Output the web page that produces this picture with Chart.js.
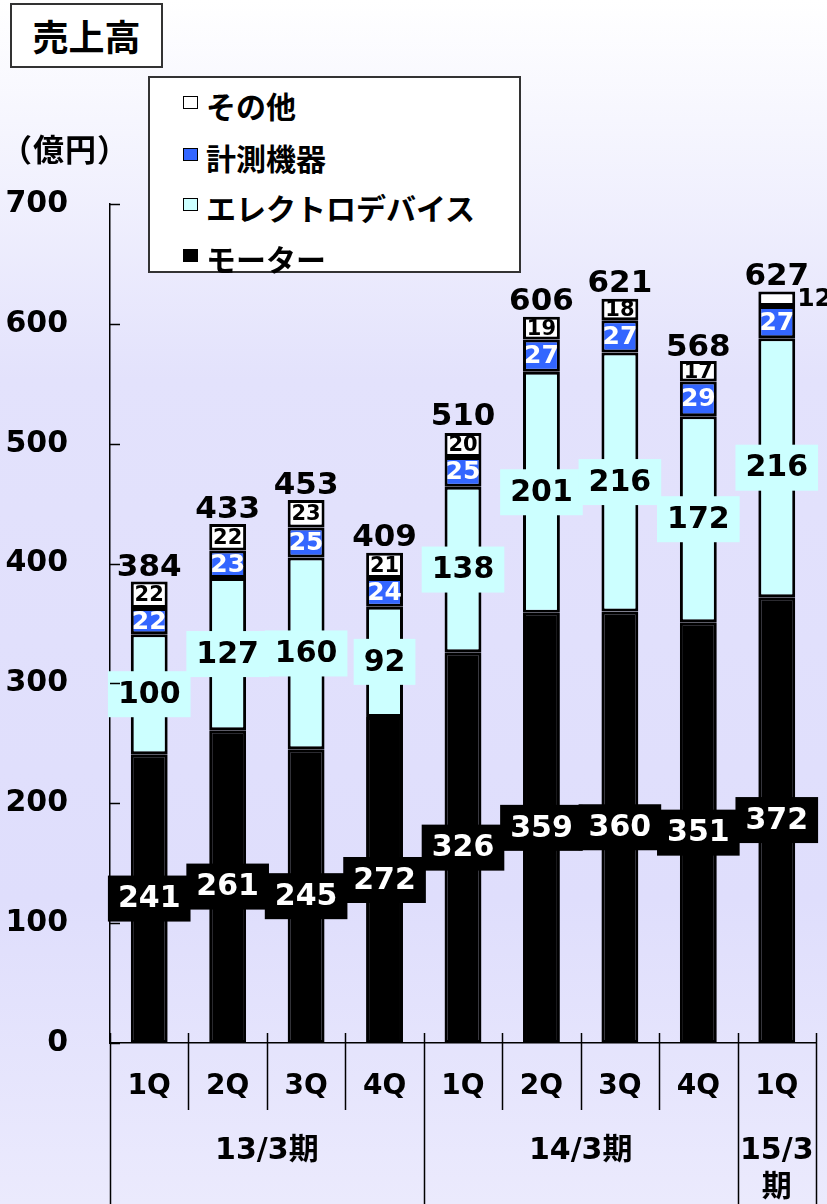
<!DOCTYPE html>
<html>
<head>
<meta charset="utf-8">
<script src="https://cdn.jsdelivr.net/npm/chart.js@4.4.1/dist/chart.umd.min.js"></script>
<style>
  html, body { margin: 0; padding: 0; }
  body {
    width: 827px; height: 1204px; position: relative; overflow: hidden;
    background: linear-gradient(to bottom, #ffffff 0px, #f6f6fe 120px, #e3e2fc 380px, #dfdefc 900px, #ebeafd 1204px);
    font-family: "DejaVu Sans", "Noto Sans CJK JP", sans-serif;
  }
  #chart { position: absolute; left: 0; top: 0; }
  .title {
    position: absolute; left: 10px; top: 3px; width: 149px; height: 61px;
    border: 2px solid #333; background: #fff;
    font: bold 36px "Noto Sans CJK JP", sans-serif; line-height: 61px; text-align: center;
  }
  .unit {
    position: absolute; left: 1px; top: 125px;
    font: bold 31px "Noto Sans CJK JP", sans-serif; letter-spacing: 1px;
  }
  #legend {
    position: absolute; left: 148px; top: 76px; width: 369px; height: 193px;
    border: 2px solid #333; background: #fff;
  }
  #legend .item {
    position: absolute; left: 33px; height: 40px; line-height: 40px;
    font: bold 30px "Noto Sans CJK JP", sans-serif; white-space: nowrap;
  }
  #legend .box {
    display: inline-block; width: 13px; height: 11px; border: 1px solid #000;
    vertical-align: top; margin-top: 13px; margin-right: 8px;
  }
</style>
</head>
<body>
<canvas id="chart" width="827" height="1204"></canvas>
<div class="title">売上高</div>
<div class="unit">（億円）</div>
<div id="legend"></div>
<script>
// quarters and fiscal years
const quarters = ['1Q', '2Q', '3Q', '4Q', '1Q', '2Q', '3Q', '4Q', '1Q'];
const fiscalYears = [
    { label: ['13/3期'], from: 0, to: 4 },
    { label: ['14/3期'], from: 4, to: 8 },
    { label: ['15/3', '期'], from: 8, to: 9 }
];

// segment values (億円)
const motor = [241, 261, 245, 272, 326, 359, 360, 351, 372];
const electro = [100, 127, 160, 92, 138, 201, 216, 172, 216];
const measure = [22, 23, 25, 24, 25, 27, 27, 29, 27];
const other = [22, 22, 23, 21, 20, 19, 18, 17, 12];
const totals = [384, 433, 453, 409, 510, 606, 621, 568, 627];

const yTicks = [0, 100, 200, 300, 400, 500, 600, 700];

const seriesNames = ['モーター', 'エレクトロデバイス', '計測機器', 'その他'];
const seriesColors = ['#000000', '#ccffff', '#3366ff', '#ffffff'];

const FONT = '"DejaVu Sans", "Noto Sans CJK JP", sans-serif';

// legend (top item = last series)
const legendEl = document.getElementById('legend');
const tops = [5, 57, 107, 158];
seriesNames.slice().reverse().forEach((name, k) => {
    const color = seriesColors[seriesNames.length - 1 - k];
    const div = document.createElement('div');
    div.className = 'item';
    div.style.top = tops[k] + 'px';
    div.innerHTML = '<span class="box" style="background:' + color + '"></span>' + name;
    legendEl.appendChild(div);
});

function labelBox(ctx, text, x, y, bg, fg, size) {
    ctx.font = 'bold ' + size + 'px ' + FONT;
    const w = ctx.measureText(text).width + 20;
    const h = 46;
    ctx.fillStyle = bg;
    ctx.fillRect(x - w / 2, y - h / 2, w, h);
    ctx.fillStyle = fg;
    ctx.fillText(text, x, y + 1);
}

const labelsPlugin = {
    id: 'segmentLabels',
    afterDatasetsDraw(chart) {
        const ctx = chart.ctx;
        ctx.save();
        ctx.textAlign = 'center';
        ctx.textBaseline = 'middle';
        const metas = [0, 1, 2, 3].map(d => chart.getDatasetMeta(d));
        quarters.forEach((q, i) => {
            const m = metas[0].data[i];
            labelBox(ctx, String(motor[i]), m.x, (m.y + m.base) / 2, '#000', '#fff', 30);
            const e = metas[1].data[i];
            labelBox(ctx, String(electro[i]), e.x, (e.y + e.base) / 2, '#ccffff', '#000', 30);
            const s = metas[2].data[i];
            ctx.font = 'bold 25px ' + FONT;
            ctx.fillStyle = '#fff';
            ctx.fillText(String(measure[i]), s.x, (s.y + s.base) / 2 + 1);
            const o = metas[3].data[i];
            ctx.fillStyle = '#000';
            if (other[i] < 15) {
                ctx.font = 'bold 25px ' + FONT;
                ctx.textAlign = 'left';
                ctx.fillText(String(other[i]), o.x + o.width / 2 + 2, (o.y + o.base) / 2 + 1);
                ctx.textAlign = 'center';
            } else {
                ctx.font = 'bold 21px ' + FONT;
                ctx.fillText(String(other[i]), o.x, (o.y + o.base) / 2 + 1);
            }
            ctx.font = 'bold 31px ' + FONT;
            ctx.textBaseline = 'bottom';
            ctx.fillText(String(totals[i]), o.x, chart.scales.y.getPixelForValue(totals[i]) + 1);
            ctx.textBaseline = 'middle';
        });
        ctx.restore();
    },
    afterDraw(chart) {
        const ctx = chart.ctx;
        const area = chart.chartArea;
        const ys = chart.scales.y;
        const step = (area.right - area.left) / quarters.length;
        ctx.save();
        ctx.strokeStyle = '#000';
        ctx.lineWidth = 1.5;
        // inner y ticks
        yTicks.forEach(v => {
            const y = Math.round(ys.getPixelForValue(v)) + 0.5;
            ctx.beginPath();
            ctx.moveTo(area.left, y);
            ctx.lineTo(area.left + 10, y);
            ctx.stroke();
        });
        // x separators
        const groupEdges = new Set([0, 4, 8, 9]);
        for (let k = 0; k <= quarters.length; k++) {
            const x = Math.round(area.left + k * step) + 0.5;
            ctx.beginPath();
            ctx.moveTo(x, area.bottom - 10);
            ctx.lineTo(x, groupEdges.has(k) ? chart.height : area.bottom + 67);
            ctx.stroke();
        }
        // fiscal year labels
        ctx.fillStyle = '#000';
        ctx.textAlign = 'center';
        ctx.textBaseline = 'middle';
        ctx.font = 'bold 30px ' + FONT;
        fiscalYears.forEach(g => {
            const cx = area.left + (g.from + g.to) / 2 * step;
            g.label.forEach((line, j) => {
                ctx.fillText(line, cx, 1151 + j * 37);
            });
        });
        ctx.restore();
    }
};

const datasets = seriesNames.map((name, d) => ({
    label: name,
    data: [motor, electro, measure, other][d],
    backgroundColor: seriesColors[d],
    borderColor: '#000',
    borderWidth: 3,
    borderSkipped: false,
    barPercentage: 0.47,
    categoryPercentage: 1.0
}));

new Chart(document.getElementById('chart'), {
    type: 'bar',
    data: { labels: quarters, datasets: datasets },
    options: {
        responsive: false,
        animation: false,
        events: [],
        layout: { padding: { top: 204, right: 11, left: 0, bottom: 0 } },
        plugins: {
            legend: { display: false },
            tooltip: { enabled: false }
        },
        scales: {
            x: {
                stacked: true,
                grid: { display: false, drawTicks: false },
                border: { display: true, color: '#000', width: 1.5 },
                ticks: {
                    color: '#000',
                    font: { family: FONT, size: 28, weight: 'bold' },
                    padding: 27,
                    maxRotation: 0,
                    autoSkip: false
                },
                afterFit(scale) { scale.height = 161; }
            },
            y: {
                stacked: true,
                min: 0,
                max: 700,
                grid: { display: false, drawTicks: false },
                border: { display: true, color: '#000', width: 1.5 },
                ticks: {
                    stepSize: 100,
                    color: '#000',
                    font: { family: FONT, size: 30, weight: 'bold' },
                    padding: 42
                },
                afterFit(scale) { scale.width = 110; }
            }
        }
    },
    plugins: [labelsPlugin]
});
</script>
</body>
</html>
